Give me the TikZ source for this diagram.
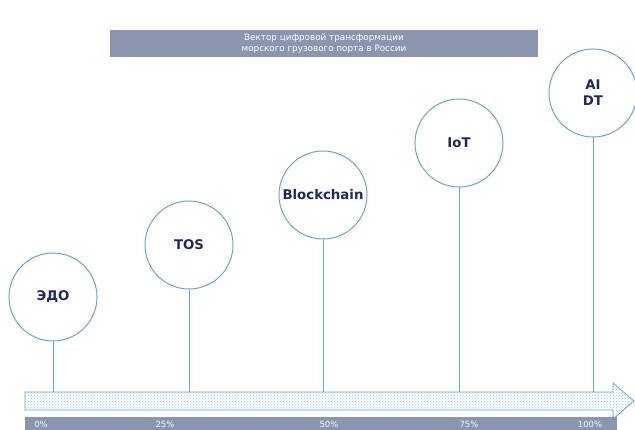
\documentclass[tikz,border=0pt]{standalone}
\usepackage{fontspec}
\setmainfont{DejaVu Sans}
\usetikzlibrary{positioning, patterns}
\definecolor{barblue}{HTML}{8A96B0}
\definecolor{ringblue}{HTML}{6AA3D8}
\definecolor{navy}{HTML}{1F2A5C}

\begin{document}
\begin{tikzpicture}[x=1pt, y=-1pt,
  stage/.style={draw=ringblue, circle, minimum size=88pt, inner sep=0pt, line width=1pt,
                fill=white, align=center, text=navy, font=\bfseries\fontsize{13.3}{16}\selectfont},
  stem/.style={draw=ringblue, line width=1pt},
  titlebox/.style={fill=barblue, minimum width=428pt, minimum height=27pt, inner sep=0pt,
                   align=center, text=white, font=\fontsize{8.8}{10.5}\selectfont},
  pct/.style={text=white!92!barblue, font=\fontsize{8.5}{10}\selectfont, inner sep=0pt},
  shaft/.style={draw=ringblue, line width=0.8pt, preaction={fill=white},
                pattern=crosshatch dots, pattern color=ringblue!60},
]
\useasboundingbox (0,0) rectangle (635,430);

% === Title ===
\node[titlebox] (title) at (324,43.5) {Вектор цифровой трансформации\\морского грузового порта в России};

% === Timeline arrow and scale ===
\draw[shaft] (25,392) -- (613,392) -- (613,383) -- (634,401) -- (613,419) -- (613,410)
  -- (25,410) -- cycle;
\coordinate (axis) at (0,392);
\fill[barblue] (25,417) rectangle (617,430);

\node[pct] (p0)   at (41,424)  {0\%};
\node[pct] (p25)  at (165,424) {25\%};
\node[pct] (p50)  at (329,424) {50\%};
\node[pct] (p75)  at (469,424) {75\%};
\node[pct] (p100) at (590,424) {100\%};

% === Stages ===
\node[stage] (edo)   at (53,297)  {ЭДО};
\node[stage] (tos)   at (189,245) {TOS};
\node[stage] (chain) at (323,195) {Blockchain};
\node[stage] (iot)   at (459,143) {IoT};
\node[stage] (aidt)  at (593,93)  {AI\\DT};

% === Stems ===
\foreach \s in {edo, tos, chain, iot, aidt}
  \draw[stem] (\s) -- (\s |- axis);

\end{tikzpicture}
\end{document}
